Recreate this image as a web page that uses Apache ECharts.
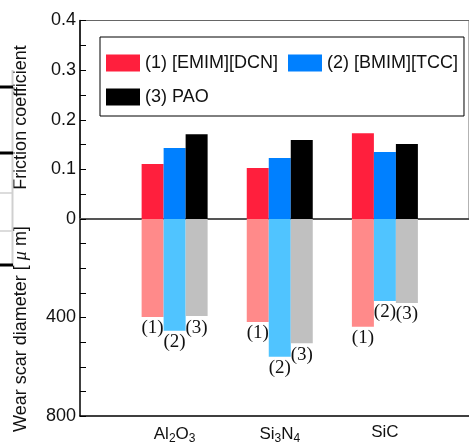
<!DOCTYPE html>
<html>
<head>
<meta charset="utf-8">
<script src="https://cdn.jsdelivr.net/npm/echarts@6/dist/echarts.min.js"></script>
<style>
html, body { margin: 0; padding: 0; background: #fff; }
#main { width: 469px; height: 445px; }
</style>
</head>
<body>
<div id="main"></div>
<script>
var categories = ['Al2O3', 'Si3N4', 'SiC'];
var legendNames = ['(1) [EMIM][DCN]', '(2) [BMIM][TCC]', '(3) PAO'];
var wearNames = ['wear (1)', 'wear (2)', 'wear (3)'];
var wearTags = ['(1)', '(2)', '(3)'];

var frictionEMIM = [0.111, 0.103, 0.173];
var frictionBMIM = [0.143, 0.123, 0.135];
var frictionPAO = [0.171, 0.159, 0.151];

var wearEMIM = [398, 418, 438];
var wearBMIM = [454, 559, 333];
var wearPAO = [394, 505, 341];

var frictionTicks = [0, 0.1, 0.2, 0.3, 0.4];
var wearTicks = [0, 400, 800];

var topColors = ['#ff1f3d', '#0080ff', '#000000'];
var lowColors = ['#ff8a8a', '#50c4ff', '#c0c0c0'];

var sans = '"Liberation Sans", Arial, sans-serif';
var serif = '"Liberation Serif", "Times New Roman", serif';

function pts(vals) {
    return vals.map(function(v, i) {
        return [i + 1, v];
    });
}

var frictionSets = [frictionEMIM, frictionBMIM, frictionPAO];
var wearSets = [wearEMIM, wearBMIM, wearPAO];
var series = [];

frictionSets.forEach(function(vals, k) {
    series.push({
        name: legendNames[k],
        type: 'bar',
        xAxisIndex: 0,
        yAxisIndex: 0,
        barWidth: 22,
        barGap: '0%',
        itemStyle: { color: topColors[k] },
        data: pts(vals)
    });
});

wearSets.forEach(function(vals, k) {
    series.push({
        name: wearNames[k],
        type: 'bar',
        xAxisIndex: 1,
        yAxisIndex: 1,
        barWidth: 22,
        barGap: '0%',
        itemStyle: { color: lowColors[k] },
        label: {
            show: true,
            position: 'bottom',
            distance: 2,
            formatter: wearTags[k],
            fontFamily: serif,
            fontSize: 19,
            color: '#111'
        },
        data: pts(vals)
    });
});

var xMin = 0.1, xMax = 3.8;

var myChart = echarts.init(document.getElementById('main'));
var option = {
    animation: false,
    backgroundColor: '#fff',
    textStyle: { fontFamily: sans },
    legend: {
        data: legendNames,
        left: 100,
        top: 37,
        width: 356,
        padding: [14, 6, 7, 6],
        itemGap: 10,
        itemWidth: 34,
        itemHeight: 17,
        icon: 'rect',
        borderColor: '#000',
        borderWidth: 1,
        selectedMode: false,
        textStyle: { fontFamily: sans, fontSize: 18, color: '#111', lineHeight: 24 }
    },
    grid: [
        { left: 80, top: 20.5, width: 397.75, height: 198.5, show: true, borderColor: '#666', borderWidth: 1 },
        { left: 80, top: 219, width: 397.75, height: 198.5 }
    ],
    xAxis: [
        {
            type: 'value', gridIndex: 0, min: xMin, max: xMax,
            axisLine: { show: true, onZero: false, lineStyle: { color: '#555', width: 2 } },
            axisTick: { show: false },
            axisLabel: { show: false },
            splitLine: { show: false }
        },
        {
            type: 'value', gridIndex: 1, min: xMin, max: xMax,
            axisLine: { show: true, onZero: false, lineStyle: { color: '#000', width: 1.5 } },
            axisTick: { show: false },
            splitLine: { show: false },
            axisLabel: {
                customValues: [1, 2, 3],
                margin: 8,
                fontFamily: sans,
                fontSize: 17,
                color: '#111',
                formatter: function(v) {
                    var name = categories[Math.round(v) - 1] || '';
                    return name.replace(/(\d)/g, '{s|$1}');
                },
                rich: {
                    s: { fontFamily: sans, fontSize: 12, color: '#111', padding: [9, 0, 0, 0] }
                }
            }
        }
    ],
    yAxis: [
        {
            type: 'value', gridIndex: 0,
            min: frictionTicks[0], max: frictionTicks[frictionTicks.length - 1], interval: 0.1,
            axisLine: { show: true, lineStyle: { color: '#000', width: 1.5 } },
            axisTick: { show: true, inside: true, length: 6, lineStyle: { color: '#000', width: 1 } },
            minorTick: { show: true, splitNumber: 2, length: 6, lineStyle: { color: '#000', width: 1 } },
            splitLine: { show: false },
            axisLabel: { margin: 4, fontFamily: sans, fontSize: 18, color: '#111' }
        },
        {
            type: 'value', gridIndex: 1, inverse: true,
            min: wearTicks[0], max: wearTicks[wearTicks.length - 1], interval: 400,
            axisLine: { show: true, lineStyle: { color: '#000', width: 1.5 } },
            axisTick: { show: true, inside: true, length: 6, lineStyle: { color: '#000', width: 1 } },
            minorTick: { show: true, splitNumber: 4, length: 6, lineStyle: { color: '#000', width: 1 } },
            splitLine: { show: false },
            axisLabel: {
                margin: 4, fontFamily: sans, fontSize: 18, color: '#111',
                formatter: function(v) { return v === 0 ? '' : String(v); }
            }
        }
    ],
    graphic: [
        {
            type: 'text', x: 21, y: 117.5, rotation: Math.PI / 2,
            style: {
                text: 'Friction coefficient', font: '18px ' + sans, fill: '#111',
                align: 'center', verticalAlign: 'middle', textAlign: 'center', textVerticalAlign: 'middle'
            }
        },
        {
            type: 'text', x: 21, y: 329, rotation: Math.PI / 2,
            style: {
                text: 'Wear scar diameter [ {mu|μ} m]', font: '18px ' + sans, fill: '#111',
                align: 'center', verticalAlign: 'middle', textAlign: 'center', textVerticalAlign: 'middle',
                rich: { mu: { font: 'italic 18px ' + serif, fill: '#111' } }
            }
        },
        // bits of the neighbouring panel at the left edge
        { type: 'line', shape: { x1: 12.5, y1: 70, x2: 12.5, y2: 266 }, style: { stroke: '#d0d0d0', lineWidth: 2 } },
        { type: 'line', shape: { x1: 0, y1: 87, x2: 13, y2: 87 }, style: { stroke: '#000', lineWidth: 3 } },
        { type: 'line', shape: { x1: 0, y1: 153, x2: 13, y2: 153 }, style: { stroke: '#000', lineWidth: 3 } },
        { type: 'line', shape: { x1: 0, y1: 265, x2: 13, y2: 265 }, style: { stroke: '#000', lineWidth: 3 } },
        { type: 'line', shape: { x1: 0, y1: 193, x2: 12, y2: 193 }, style: { stroke: '#d0d0d0', lineWidth: 1.5 } },
        { type: 'line', shape: { x1: 0, y1: 231, x2: 12, y2: 231 }, style: { stroke: '#d0d0d0', lineWidth: 1.5 } }
    ],
    series: series
};
myChart.setOption(option);
</script>
</body>
</html>
